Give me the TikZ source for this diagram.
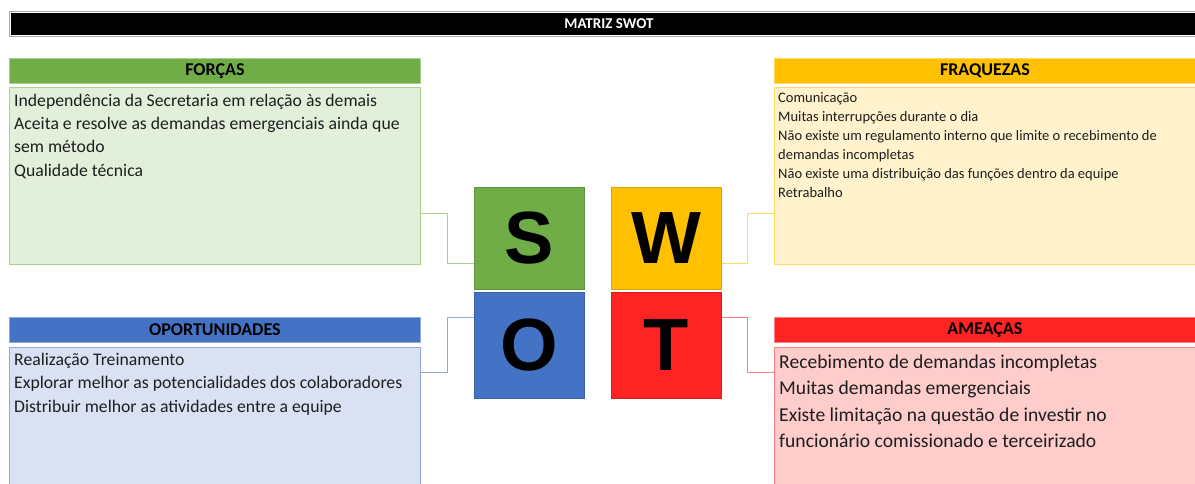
\documentclass[tikz,border=0pt]{standalone}
\usepackage{fontspec}
\setmainfont{Carlito}
\newfontfamily\arialfont{Liberation Sans}
\usetikzlibrary{calc}
\definecolor{gS}{HTML}{70AD47}\definecolor{gL}{HTML}{E2EFDA}\definecolor{gB}{HTML}{A9D08E}
\definecolor{yS}{HTML}{FFC000}\definecolor{yL}{HTML}{FFF2CC}\definecolor{yB}{HTML}{FFD966}
\definecolor{bS}{HTML}{4472C4}\definecolor{bL}{HTML}{D9E1F2}\definecolor{bB}{HTML}{8EA9DB}
\definecolor{rS}{HTML}{FF2323}\definecolor{rL}{HTML}{FFCCCC}\definecolor{rB}{HTML}{FF7C80}
\definecolor{ink}{HTML}{1E1E1E}
\begin{document}
\begin{tikzpicture}[x=1pt,y=-1pt,
  titlebar/.style={draw=gray!70,fill=black,line width=1pt,anchor=north west,inner sep=0pt,
     text=white,font=\fontsize{15}{15}\selectfont\bfseries},
  hdr/.style={anchor=north west,inner sep=0pt,line width=0.8pt,minimum height=25pt,
     font=\fontsize{18}{18}\selectfont\bfseries,text=black},
  bodybox/.style={anchor=north west,inner sep=0pt,line width=0.8pt},
  txt/.style={anchor=base west,inner sep=0pt,align=left,text=ink},
  sq/.style={anchor=north west,inner sep=0pt,line width=0.8pt,minimum width=110pt,
     font=\arialfont\bfseries\fontsize{74}{74}\selectfont,text=black},
  conn/.style={line width=0.9pt}]
\useasboundingbox (0,0) rectangle (1195,483);
\fill[white] (0,0) rectangle (1195,483);
% title
\node[titlebar,minimum width=1199pt,minimum height=25pt] (title) at (9,11) {MATRIZ SWOT};
\draw[white,line width=0.8pt] ($(title.north west)+(1.5,1.5)$) rectangle ($(title.south east)+(-1.5,-1.5)$);
% headers
\node[hdr,fill=gS,draw=gB,minimum width=411pt] (fh) at (9,58) {FORÇAS};
\node[hdr,fill=yS,draw=yB,minimum width=421pt] (wh) at (774,58) {FRAQUEZAS};
\node[hdr,fill=bS,draw=bB,minimum width=411pt] (oh) at (9,317) {OPORTUNIDADES};
\node[hdr,fill=rS,draw=rB,minimum width=421pt] (ah) at (774,317) {AMEAÇAS};
% bodies
\node[bodybox,fill=gL,draw=gB,minimum width=411pt,minimum height=177pt] (fb) at (9,87) {};
\node[bodybox,fill=yL,draw=yB,minimum width=421pt,minimum height=177pt] (wb) at (774,87) {};
\node[bodybox,fill=bL,draw=bB,minimum width=411pt,minimum height=145pt] (ob) at (9,347) {};
\node[bodybox,fill=rL,draw=rB,minimum width=421pt,minimum height=145pt] (ab) at (774,347) {};
% texts (anchor base = baseline of the last line)
\node[txt,font=\fontsize{17.7}{23.3}\selectfont] (ft) at (14,176)
 {Independência da Secretaria em relação às demais\\Aceita e resolve as demandas emergenciais ainda que\\sem método\\Qualidade técnica};
\node[txt,font=\fontsize{14.5}{19}\selectfont] (wt) at (778,197)
 {Comunicação\\Muitas interrupções durante o dia\\Não existe um regulamento interno que limite o recebimento de\\demandas incompletas\\Não existe uma distribuição das funções dentro da equipe\\Retrabalho};
\node[txt,font=\fontsize{17.7}{23.5}\selectfont] (ot) at (14,412)
 {Realização Treinamento\\Explorar melhor as potencialidades dos colaboradores\\Distribuir melhor as atividades entre a equipe};
\node[txt,font=\fontsize{19.6}{26.5}\selectfont] (at) at (779,447.5)
 {Recebimento de demandas incompletas\\Muitas demandas emergenciais\\Existe limitação na questão de investir no\\funcionário comissionado e terceirizado};
% squares
\node[sq,fill=gS,draw=gS!85!black,minimum height=102pt] (S) at (474,187) {S};
\node[sq,fill=yS,draw=yS!85!black,minimum height=102pt] (W) at (611,187) {W};
\node[sq,fill=bS,draw=bS!85!black,minimum height=106pt] (O) at (474,292) {O};
\node[sq,fill=rS,draw=rS!85!black,minimum height=106pt] (T) at (611,292) {T};
% connectors
\draw[conn,draw=gB] ($(fb.north east)+(0,126)$) -| ($(S.south west)+(-27,-26)$) -- ($(S.south west)+(0,-26)$);
\draw[conn,draw=yB] ($(W.south east)+(0,-26)$) -| ($(wb.north west)+(-27,126)$) -- ($(wb.north west)+(0,126)$);
\draw[conn,draw=bB] ($(ob.north east)+(0,25)$) -| ($(O.north west)+(-27,25)$) -- ($(O.north west)+(0,25)$);
\draw[conn,draw=rB] ($(T.north east)+(0,25)$) -| ($(ab.north west)+(-27,25)$) -- ($(ab.north west)+(0,25)$);
\end{tikzpicture}
\end{document}
